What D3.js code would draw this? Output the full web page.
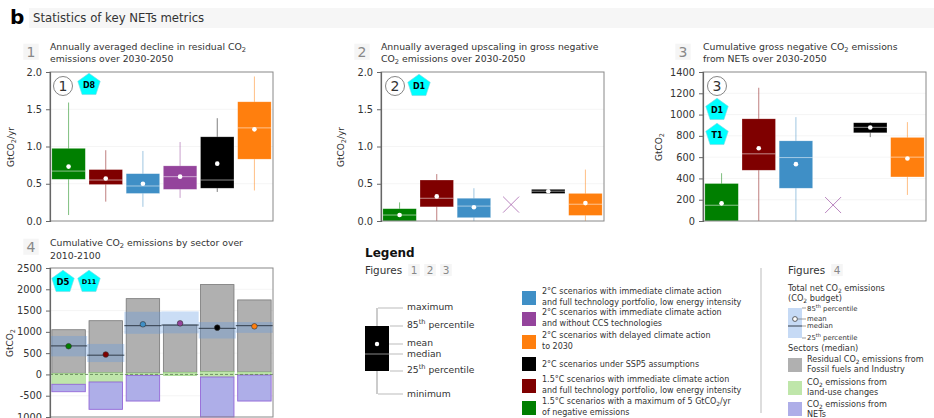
<!DOCTYPE html>
<html>
<head>
<meta charset="utf-8">
<script src="https://cdn.jsdelivr.net/npm/d3@7"></script>
<style>
    html, body { margin: 0; padding: 0; background: #fff; overflow: hidden; }
    svg { display: block; font-family: "DejaVu Sans", sans-serif; }
    text { fill: #333; }
</style>
</head>
<body>
<svg id="chart" width="934" height="418"></svg>
<script>
// Scenario order and colors, shared by all four panels
const scenarios = ["1.5C low", "1.5C max5", "2C full", "2C noCCS", "2C SSP5", "2C delayed"];
const colors = ["#007f00", "#7f0000", "#3f8fc6", "#94449c", "#000000", "#ff7f0e"];

// Panel 1: decline in residual CO2
const declineMin = [0.08, 0.26, 0.19, 0.31, 0.39, 0.41];
const declineQ25 = [0.56, 0.49, 0.37, 0.425, 0.44, 0.83];
const declineMedian = [0.67, 0.55, 0.47, 0.595, 0.55, 1.25];
const declineMean = [0.73, 0.57, 0.5, 0.595, 0.77, 1.23];
const declineQ85 = [0.975, 0.69, 0.635, 0.74, 1.13, 1.6];
const declineMax = [1.59, 0.95, 0.94, 1.06, 1.38, 1.94];

// Panel 2: upscaling in gross negative emissions (no data for scenario 4)
const upscaleMin = [0, 0, 0, null, 0.37, 0];
const upscaleQ25 = [0, 0.19, 0.045, null, 0.37, 0.075];
const upscaleMedian = [0.08, 0.305, 0.2, null, 0.4, 0.225];
const upscaleMean = [0.08, 0.33, 0.185, null, 0.4, 0.24];
const upscaleQ85 = [0.165, 0.55, 0.305, null, 0.425, 0.37];
const upscaleMax = [0.25, 0.63, 0.44, null, 0.43, 0.69];
const upscaleCross = 0.22;

// Panel 3: cumulative gross negative emissions
const grossMin = [0, 0, 0, null, 788, 245];
const grossQ25 = [0, 477, 308, null, 829, 414];
const grossMedian = [148, 631, 596, null, 880, 600];
const grossMean = [166, 684, 534, null, 879, 587];
const grossQ85 = [352, 960, 753, null, 923, 785];
const grossMax = [449, 1252, 976, null, 930, 929];
const grossCross = 150;

// Panel 4: cumulative emissions by sector
const fossilBottom = [26, 40, 33, 50, 63, 56];
const fossilTop = [1050, 1262, 1780, 1160, 2110, 1750];
const landUseLow = [-232, -178, -22, -30, -61, -14];
const netsLow = [-406, -820, -625, -30, -1000, -625];
const budgetQ25 = [424, 291, 954, 965, 844, 977];
const budgetQ85 = [903, 716, 1472, 1480, 1230, 1230];
const budgetMedian = [670, 452, 1145, 1160, 1083, 1145];
const budgetMean = [663, 468, 1177, 1200, 1099, 1130];

const declineTicks = [0, 0.5, 1, 1.5, 2];
const grossTicks = [0, 200, 400, 600, 800, 1000, 1200, 1400];
const sectorTicks = [-1000, -500, 0, 500, 1000, 1500, 2000, 2500];

const legendScenarios = [
    { color: colors[2], lines: ["2°C scenarios with immediate climate action", "and full technology portfolio, low energy intensity"] },
    { color: colors[3], lines: ["2°C scenarios with immediate climate action", "and without CCS technologies"] },
    { color: colors[5], lines: ["2°C scenarios with delayed climate action", "to 2030"] },
    { color: colors[4], lines: ["2°C scenarios under SSP5 assumptions"] },
    { color: colors[1], lines: ["1.5°C scenarios with immediate climate action", "and full technology portfolio, low energy intensity"] },
    { color: colors[0], lines: ["1.5°C scenarios with a maximum of 5 GtCO_2/yr", "of negative emissions"] },
];
const legendRows = [298, 319, 342, 364, 386, 408];

const svg = d3.select("#chart");

// Writes text, turning _2 into a subscript and ^th into a superscript
function rich(parent, x, y, str, size, attrs = {}) {
    const t = parent.append("text").attr("x", x).attr("y", y).attr("font-size", size);
    Object.entries(attrs).forEach(([k, v]) => t.attr(k, v));
    let shift = 0;
    str.split(/(_2|\^th)/).filter((s) => s).forEach((part) => {
        const sub = part === "_2";
        const sup = part === "^th";
        const target = sub ? size * 0.2 : sup ? -size * 0.4 : 0;
        t.append("tspan")
            .attr("dy", target - shift)
            .attr("font-size", sub || sup ? size * 0.72 : size)
            .text(sub ? "2" : sup ? "th" : part);
        shift = target;
    });
    return t;
}

function pentagon(parent, cx, cy, label, size) {
    const points = d3.range(5).map((i) => {
        const a = -Math.PI / 2 + (i * 2 * Math.PI) / 5;
        return [cx + 11.8 * Math.cos(a), cy + 11.8 * Math.sin(a)];
    });
    parent.append("polygon").attr("points", points.join(" ")).attr("fill", "#00ffff").attr("stroke", "#7fd8e0").attr("stroke-width", 0.6);
    parent.append("text").attr("x", cx).attr("y", cy + size * 0.36).attr("text-anchor", "middle")
        .attr("font-size", size).attr("font-weight", "bold").style("fill", "#000").text(label);
}

function numberBadge(parent, cx, cy, n) {
    parent.append("circle").attr("cx", cx).attr("cy", cy).attr("r", 9.5).attr("fill", "#fff").attr("stroke", "#666").attr("stroke-width", 0.8);
    parent.append("text").attr("x", cx).attr("y", cy + 5).attr("text-anchor", "middle").attr("font-size", 14).text(n);
}

function grayDigit(parent, x, y, n, size) {
    parent.append("rect").attr("x", x - size * 0.55).attr("y", y - size * 0.95).attr("width", size * 1.1).attr("height", size * 1.15).attr("fill", "#f5f5f5");
    parent.append("text").attr("x", x).attr("y", y).attr("text-anchor", "middle").attr("font-size", size).style("fill", "#888").text(n);
}

// Frame, grid and axis label of one panel, returns the scales
function panelFrame(opts) {
    const g = svg.append("g");
    const x = d3.scaleBand().domain(scenarios).range([opts.left, opts.left + 223]).paddingInner(0.1).paddingOuter(0.05);
    const y = d3.scaleLinear().domain(opts.domain).range([opts.bottom, opts.top]);

    g.append("g").selectAll("line").data(opts.ticks.filter((d) => d !== opts.domain[0] && d !== opts.domain[1])).join("line")
        .attr("x1", opts.left).attr("x2", opts.left + 223)
        .attr("y1", (d) => y(d)).attr("y2", (d) => y(d))
        .attr("stroke", "#f2f2f2").attr("stroke-width", 0.8);

    rich(g, 0, 0, opts.unit, 9, {
        transform: `translate(${opts.labelX},${opts.labelY}) rotate(-90)`,
        "text-anchor": "middle",
    });

    return { g, x, y };
}

function panelAxis(p, opts) {
    p.g.append("rect").attr("x", opts.left).attr("y", opts.top).attr("width", 223).attr("height", opts.bottom - opts.top)
        .attr("fill", "none").attr("stroke", "#888").attr("stroke-width", 1);
    const axis = d3.axisLeft(p.y).tickValues(opts.ticks).tickSize(4).tickPadding(4).tickFormat(opts.format);
    const a = p.g.append("g").attr("transform", `translate(${opts.left},0)`).call(axis);
    a.select(".domain").attr("stroke", "#666").attr("stroke-width", 1.2);
    a.selectAll(".tick line").attr("stroke", "#666");
    a.selectAll("text").attr("font-size", 9.8).attr("font-family", '"DejaVu Sans", sans-serif').style("fill", "#333");
}

// Box and whisker panels (1, 2, 3)
function boxPanel(opts) {
    const p = panelFrame(opts);
    const rows = scenarios.map((name, i) => ({
        name, color: colors[i],
        min: opts.min[i], q25: opts.q25[i], median: opts.median[i], mean: opts.mean[i], q85: opts.q85[i], max: opts.max[i],
    }));
    const valid = rows.filter((d) => d.min !== null);
    const mid = (d) => p.x(d.name) + p.x.bandwidth() / 2;

    p.g.selectAll(".whisker").data(valid).join("line").attr("class", "whisker")
        .attr("x1", mid).attr("x2", mid)
        .attr("y1", (d) => p.y(d.min)).attr("y2", (d) => p.y(d.max))
        .attr("stroke", (d) => d.color).attr("stroke-opacity", 0.5).attr("stroke-width", 1);
    p.g.selectAll(".box").data(valid).join("rect").attr("class", "box")
        .attr("x", (d) => p.x(d.name)).attr("width", p.x.bandwidth())
        .attr("y", (d) => p.y(d.q85)).attr("height", (d) => p.y(d.q25) - p.y(d.q85))
        .attr("fill", (d) => d.color).attr("stroke", "#fff").attr("stroke-opacity", 0.35).attr("stroke-width", 0.6);
    p.g.selectAll(".median").data(valid).join("line").attr("class", "median")
        .attr("x1", (d) => p.x(d.name)).attr("x2", (d) => p.x(d.name) + p.x.bandwidth())
        .attr("y1", (d) => p.y(d.median)).attr("y2", (d) => p.y(d.median))
        .attr("stroke", "#fff").attr("stroke-opacity", 0.6).attr("stroke-width", 0.9);
    p.g.selectAll(".mean").data(valid).join("circle").attr("class", "mean")
        .attr("cx", mid).attr("cy", (d) => p.y(d.mean)).attr("r", 2.3).attr("fill", "#fff");

    // Scenario without data is marked with a cross
    if (opts.cross !== undefined) {
        const cx = p.x(scenarios[3]) + p.x.bandwidth() / 2;
        const cy = p.y(opts.cross);
        [[-8, -8, 8, 8], [-8, 8, 8, -8]].forEach((s) => {
            p.g.append("line").attr("x1", cx + s[0]).attr("y1", cy + s[1]).attr("x2", cx + s[2]).attr("y2", cy + s[3])
                .attr("stroke", colors[3]).attr("stroke-opacity", 0.65).attr("stroke-width", 1);
        });
    }
    panelAxis(p, opts);
    return p;
}

const p1 = boxPanel({
    left: 50, top: 72, bottom: 221, domain: [0, 2], ticks: declineTicks, format: d3.format(".1f"),
    unit: "GtCO_2/yr", labelX: 14, labelY: 147,
    min: declineMin, q25: declineQ25, median: declineMedian, mean: declineMean, q85: declineQ85, max: declineMax,
});
const p2 = boxPanel({
    left: 381, top: 72, bottom: 221, domain: [0, 2], ticks: declineTicks, format: d3.format(".1f"),
    unit: "GtCO_2/yr", labelX: 344, labelY: 147, cross: upscaleCross,
    min: upscaleMin, q25: upscaleQ25, median: upscaleMedian, mean: upscaleMean, q85: upscaleQ85, max: upscaleMax,
});
const p3 = boxPanel({
    left: 703, top: 72, bottom: 221, domain: [0, 1400], ticks: grossTicks, format: d3.format("d"),
    unit: "GtCO_2", labelX: 662, labelY: 147, cross: grossCross,
    min: grossMin, q25: grossQ25, median: grossMedian, mean: grossMean, q85: grossQ85, max: grossMax,
});

// Sector panel (4)
const sectorOpts = {
    left: 50, top: 268, bottom: 417, domain: [-1000, 2500], ticks: sectorTicks, format: (d) => String(d),
    unit: "GtCO_2", labelX: 13, labelY: 343,
};
const p4 = panelFrame(sectorOpts);
const sectorRows = scenarios.map((name, i) => ({
    name, color: colors[i],
    bottom: fossilBottom[i], top: fossilTop[i], low: landUseLow[i], nets: netsLow[i],
    q25: budgetQ25[i], q85: budgetQ85[i], median: budgetMedian[i], mean: budgetMean[i],
}));
const bx = (d) => p4.x(d.name);
const bw = p4.x.bandwidth();
const step = p4.x.step();

p4.g.selectAll(".fossil").data(sectorRows).join("rect").attr("class", "fossil")
    .attr("x", bx).attr("width", bw)
    .attr("y", (d) => p4.y(d.top)).attr("height", (d) => p4.y(d.bottom) - p4.y(d.top))
    .attr("fill", "#b0b0b0").attr("stroke", "#777").attr("stroke-width", 0.8);
p4.g.selectAll(".landuse").data(sectorRows).join("rect").attr("class", "landuse")
    .attr("x", bx).attr("width", bw)
    .attr("y", (d) => p4.y(d.bottom)).attr("height", (d) => p4.y(d.low) - p4.y(d.bottom))
    .attr("fill", "#bfe6aa").attr("stroke", "#8fcf78").attr("stroke-width", 0.5);
p4.g.selectAll(".nets").data(sectorRows.filter((d) => d.nets < d.low)).join("rect").attr("class", "nets")
    .attr("x", bx).attr("width", bw)
    .attr("y", (d) => p4.y(d.low)).attr("height", (d) => p4.y(d.nets) - p4.y(d.low))
    .attr("fill", "#aeaee8").attr("stroke", "#9468d8").attr("stroke-width", 0.9);
p4.g.append("line").attr("x1", 50).attr("x2", 273).attr("y1", p4.y(0)).attr("y2", p4.y(0))
    .attr("stroke", "#5c7c50").attr("stroke-width", 0.8).attr("stroke-dasharray", "3,2");
p4.g.selectAll(".band").data(sectorRows).join("rect").attr("class", "band")
    .attr("x", (d) => bx(d) - (step - bw) / 2).attr("width", step)
    .attr("y", (d) => p4.y(d.q85)).attr("height", (d) => p4.y(d.q25) - p4.y(d.q85))
    .attr("fill", "#5f97e0").attr("fill-opacity", 0.33);
p4.g.selectAll(".budget-median").data(sectorRows).join("line").attr("class", "budget-median")
    .attr("x1", (d) => bx(d) - (step - bw) / 2).attr("x2", (d) => bx(d) + bw + (step - bw) / 2)
    .attr("y1", (d) => p4.y(d.median)).attr("y2", (d) => p4.y(d.median))
    .attr("stroke", "#26303c").attr("stroke-width", 0.9);
p4.g.selectAll(".budget-mean").data(sectorRows).join("circle").attr("class", "budget-mean")
    .attr("cx", (d) => bx(d) + bw / 2).attr("cy", (d) => p4.y(d.mean)).attr("r", 2.8)
    .attr("fill", (d) => d.color).attr("stroke", "#333").attr("stroke-width", 0.6);
panelAxis(p4, sectorOpts);

// Header
svg.append("rect").attr("x", 29).attr("y", 8).attr("width", 905).attr("height", 20).attr("fill", "#f6f6f6");
svg.append("text").attr("x", 10).attr("y", 24).attr("font-size", 20).attr("font-weight", "bold").style("fill", "#000").text("b");
svg.append("text").attr("x", 33).attr("y", 22).attr("font-size", 11.7).text("Statistics of key NETs metrics");

// Panel titles
const titles = [
    { n: 1, numX: 31, numY: 57, x: 50, y1: 50, y2: 62, lines: ["Annually averaged decline in residual CO_2", "emissions over 2030-2050"] },
    { n: 2, numX: 362, numY: 57, x: 381, y1: 50, y2: 62, lines: ["Annually averaged upscaling in gross negative", "CO_2 emissions over 2030-2050"] },
    { n: 3, numX: 683, numY: 57, x: 703, y1: 50, y2: 62, lines: ["Cumulative gross negative CO_2 emissions", "from NETs over 2030-2050"] },
    { n: 4, numX: 31, numY: 252, x: 50, y1: 246, y2: 259, lines: ["Cumulative CO_2 emissions by sector over", "2010-2100"] },
];
titles.forEach((t) => {
    grayDigit(svg, t.numX, t.numY, t.n, 14);
    rich(svg, t.x, t.y1, t.lines[0], 9.3);
    rich(svg, t.x, t.y2, t.lines[1], 9.3);
});

// Badges
numberBadge(svg, 63, 86, 1);
pentagon(svg, 89, 85, "D8", 8);
numberBadge(svg, 395, 86, 2);
pentagon(svg, 419, 86, "D1", 8);
numberBadge(svg, 717, 86, 3);
pentagon(svg, 717, 110, "D1", 8);
pentagon(svg, 717, 135, "T1", 8);
pentagon(p4.g, 63, 282, "D5", 8.5);
pentagon(p4.g, 89, 282, "D11", 6.5);

// Box legend
const lg = svg.append("g");
lg.append("text").attr("x", 365).attr("y", 257).attr("font-size", 12).attr("font-weight", "bold").style("fill", "#111").text("Legend");
lg.append("text").attr("x", 365).attr("y", 274).attr("font-size", 10.4).text("Figures");
[[414, 1], [430, 2], [446, 3]].forEach((d) => grayDigit(lg, d[0], 274, d[1], 10.5));

lg.append("line").attr("x1", 377).attr("x2", 377).attr("y1", 308).attr("y2", 394).attr("stroke", "#999").attr("stroke-width", 1);
lg.append("rect").attr("x", 365).attr("y", 326).attr("width", 24).attr("height", 45).attr("fill", "#000");
lg.append("line").attr("x1", 365).attr("x2", 389).attr("y1", 354).attr("y2", 354).attr("stroke", "#999").attr("stroke-width", 0.9);
lg.append("circle").attr("cx", 377).attr("cy", 344).attr("r", 2.2).attr("fill", "#fff");
[
    { from: 378, ly: 308, ty: 310, label: "maximum" },
    { from: 390, ly: 326, ty: 328, label: "85^th percentile" },
    { from: 389, ly: 344, ty: 346, label: "mean" },
    { from: 389, ly: 354, ty: 357, label: "median" },
    { from: 390, ly: 371, ty: 373, label: "25^th percentile" },
    { from: 378, ly: 394, ty: 397, label: "minimum" },
].forEach((d) => {
    lg.append("line").attr("x1", d.from).attr("x2", 403).attr("y1", d.ly).attr("y2", d.ly).attr("stroke", "#aaa").attr("stroke-width", 0.8);
    rich(lg, 407, d.ty, d.label, 9.2);
});

// Scenario legend
legendScenarios.forEach((d, i) => {
    const cy = legendRows[i];
    svg.append("rect").attr("x", 522).attr("y", cy - 7).attr("width", 14).attr("height", 14).attr("fill", d.color);
    if (d.lines.length === 1) {
        rich(svg, 542, cy + 3, d.lines[0], 8);
    } else {
        rich(svg, 542, cy - 4, d.lines[0], 8);
        rich(svg, 542, cy + 7, d.lines[1], 8);
    }
});

// Sector legend
const sg = svg.append("g");
sg.append("line").attr("x1", 761).attr("x2", 761).attr("y1", 268).attr("y2", 413).attr("stroke", "#bbb").attr("stroke-width", 1);
sg.append("text").attr("x", 788).attr("y", 274).attr("font-size", 10.4).text("Figures");
grayDigit(sg, 837, 274, 4, 10.5);
rich(sg, 788, 291, "Total net CO_2 emissions", 8.2);
rich(sg, 788, 301, "(CO_2 budget)", 8.2);
sg.append("rect").attr("x", 788).attr("y", 308).attr("width", 14).attr("height", 30).attr("fill", "#c6daf5");
sg.append("line").attr("x1", 788).attr("x2", 802).attr("y1", 326).attr("y2", 326).attr("stroke", "#26303c").attr("stroke-width", 0.9);
sg.append("circle").attr("cx", 795).attr("cy", 319).attr("r", 2.4).attr("fill", "#fff").attr("stroke", "#222").attr("stroke-width", 0.7);
[
    { x1: 802, ly: 308, ty: 311, label: "85^th percentile" },
    { x1: 798, ly: 319, ty: 321, label: "mean" },
    { x1: 802, ly: 326, ty: 328, label: "median" },
    { x1: 802, ly: 338, ty: 340, label: "25^th percentile" },
].forEach((d) => {
    sg.append("line").attr("x1", d.x1).attr("x2", 806).attr("y1", d.ly).attr("y2", d.ly).attr("stroke", "#777").attr("stroke-width", 0.7);
    rich(sg, 807, d.ty, d.label, 6.9);
});
sg.append("text").attr("x", 788).attr("y", 351).attr("font-size", 8.2).text("Sectors (median)");
[
    { color: "#b0b0b0", cy: 365, y1: 362, y2: 372, lines: ["Residual CO_2 emissions from", "Fossil fuels and Industry"] },
    { color: "#bfe6aa", cy: 388, y1: 385, y2: 395, lines: ["CO_2 emissions from", "land-use changes"] },
    { color: "#aeaee8", cy: 409, y1: 407, y2: 417, lines: ["CO_2 emissions from", "NETs"] },
].forEach((d) => {
    sg.append("rect").attr("x", 788).attr("y", d.cy - 7).attr("width", 14).attr("height", 14).attr("fill", d.color);
    rich(sg, 807, d.y1, d.lines[0], 8.1);
    rich(sg, 807, d.y2, d.lines[1], 8.1);
});
</script>
</body>
</html>
